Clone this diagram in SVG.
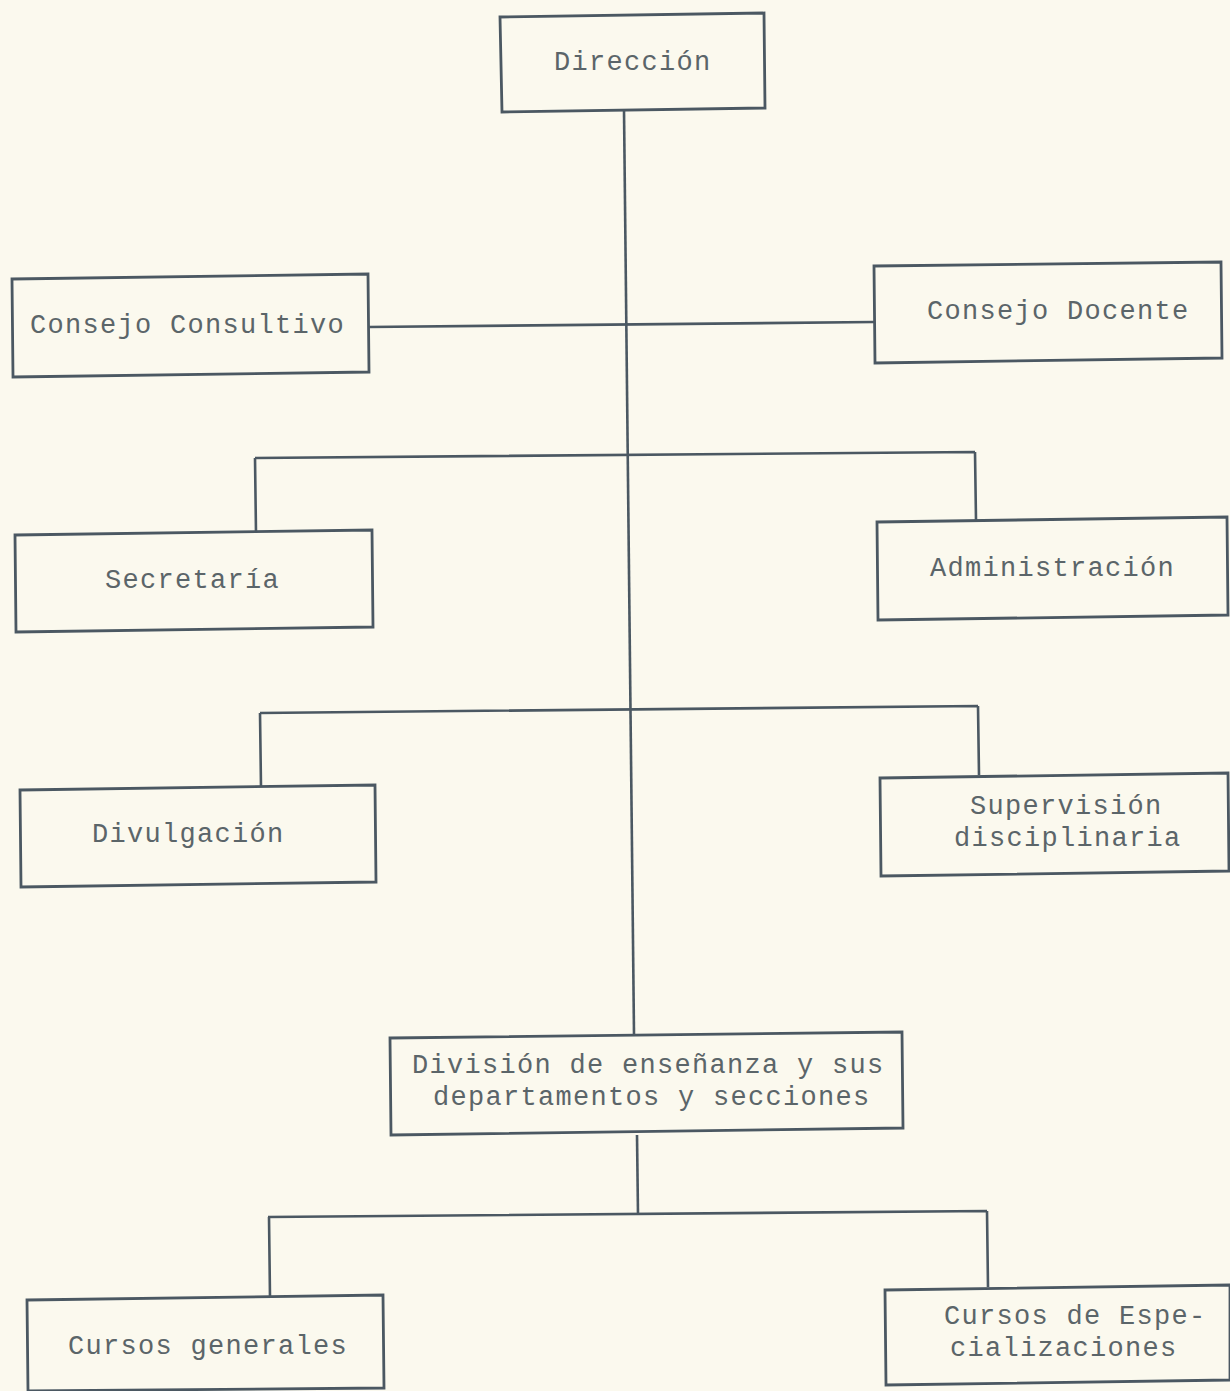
<svg xmlns="http://www.w3.org/2000/svg" width="1230" height="1391" viewBox="0 0 1230 1391">
<style>
.box{fill:none;stroke:#4b5862;stroke-width:2.8;stroke-linejoin:miter}
.ln{fill:none;stroke:#4b5862;stroke-width:2.6}
text{font-family:"Liberation Mono","Courier New",monospace;font-size:27px;letter-spacing:1.3px;fill:#5b6569}
</style>
<rect x="0" y="0" width="1230" height="1391" fill="#fbf9ee"/>
<g id="connectors">
<path class="ln" d="M624,110 L634,1034"/>
<path class="ln" d="M368,327 L874,322"/>
<path class="ln" d="M255,458 L975,452 M255,458 L256,533 M975,452 L976,520"/>
<path class="ln" d="M260,713 L978,706 M260,713 L261,787 M978,706 L979,775"/>
<path class="ln" d="M637,1135 L638,1215"/>
<path class="ln" d="M268,1217 L987,1211 M269,1217 L270,1297 M987,1211 L988,1287"/>
</g>
<g id="direccion">
<path class="box" d="M500,17 L764,13 L765,108 L502,112 Z"/>
<text x="554" y="70">Dirección</text>
</g>
<g id="consejo-consultivo">
<path class="box" d="M12,279 L368,274 L369,372 L13,377 Z"/>
<text x="30" y="333">Consejo Consultivo</text>
</g>
<g id="consejo-docente">
<path class="box" d="M874,266 L1221,262 L1222,358 L875,363 Z"/>
<text x="927" y="319">Consejo Docente</text>
</g>
<g id="secretaria">
<path class="box" d="M15,535 L372,530 L373,627 L16,632 Z"/>
<text x="105" y="588">Secretaría</text>
</g>
<g id="administracion">
<path class="box" d="M877,522 L1227,517 L1228,615 L878,620 Z"/>
<text x="930" y="576">Administración</text>
</g>
<g id="divulgacion">
<path class="box" d="M20,790 L375,785 L376,882 L21,887 Z"/>
<text x="92" y="842">Divulgación</text>
</g>
<g id="supervision">
<path class="box" d="M880,778 L1228,773 L1229,871 L881,876 Z"/>
<text x="970" y="814">Supervisión</text>
<text x="954" y="846">disciplinaria</text>
</g>
<g id="division">
<path class="box" d="M390,1038 L902,1032 L903,1128 L391,1135 Z"/>
<text x="412" y="1073">División de enseñanza y sus</text>
<text x="433" y="1105">departamentos y secciones</text>
</g>
<g id="cursos-generales">
<path class="box" d="M27,1300 L383,1295 L384,1388 L28,1391 Z"/>
<text x="68" y="1354">Cursos generales</text>
</g>
<g id="cursos-especializaciones">
<path class="box" d="M885,1290 L1230,1285 L1230,1380 L886,1385 Z"/>
<text x="944" y="1324">Cursos de Espe-</text>
<text x="950" y="1356">cializaciones</text>
</g>
</svg>
